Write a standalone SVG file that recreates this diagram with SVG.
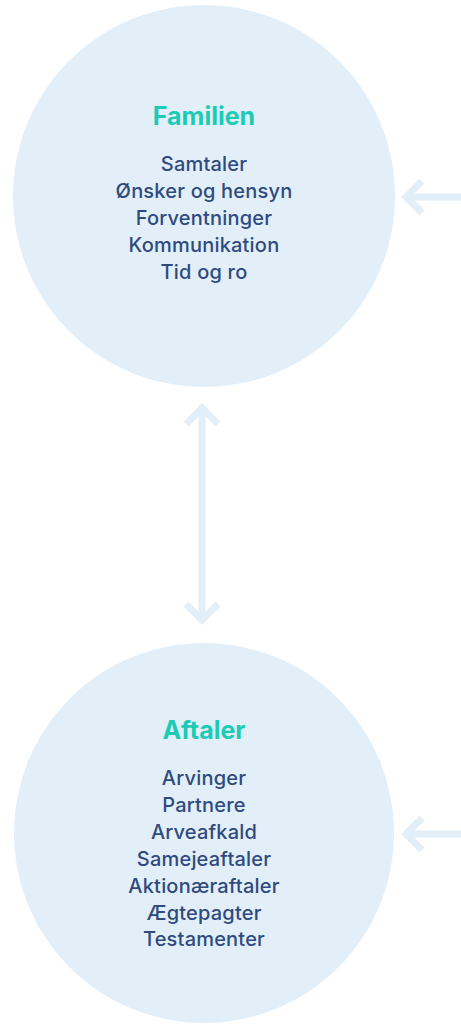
<svg xmlns="http://www.w3.org/2000/svg" width="461" height="1025" viewBox="0 0 461 1025">
<defs>
<style>
.c{fill:#e2eff9}
.t{font-family:Inter,"Liberation Sans",sans-serif;font-weight:bold;font-size:25px;fill:#1ccbb5;text-anchor:middle}
.b{font-family:Inter,"Liberation Sans",sans-serif;font-weight:500;font-size:20px;fill:#2f4a7f;text-anchor:middle;font-variant-ligatures:none;letter-spacing:0.2px}
.a{fill:none;stroke:#e2eff9;stroke-width:7}
</style>
</defs>
<g id="familien">
<circle class="c" cx="204" cy="196" r="191"/>
<text class="t" x="204" y="125">Familien</text>
<text class="b" x="204" y="171">Samtaler</text>
<text class="b" x="204" y="198">Ønsker og hensyn</text>
<text class="b" x="204" y="225">Forventninger</text>
<text class="b" x="204" y="252">Kommunikation</text>
<text class="b" x="204" y="279">Tid og ro</text>
</g>
<g id="aftaler">
<circle class="c" cx="204" cy="833" r="190"/>
<text class="t" x="204" y="739">Aftaler</text>
<text class="b" x="204" y="785">Arvinger</text>
<text class="b" x="204" y="812">Partnere</text>
<text class="b" x="204" y="839">Arveafkald</text>
<text class="b" x="204" y="866">Samejeaftaler</text>
<text class="b" x="204" y="893">Aktionæraftaler</text>
<text class="b" x="204" y="920">Ægtepagter</text>
<text class="b" x="204" y="946">Testamenter</text>
</g>
<g id="connectors">
<path class="a" d="M461 197H406M422 181L406 197L422 213"/>
<path class="a" d="M461 834H406M422 818L406 834L422 850"/>
<path class="a" d="M202 409V618M186 424L202 408L218 424M186 604L202 620L218 604"/>
</g>
</svg>
